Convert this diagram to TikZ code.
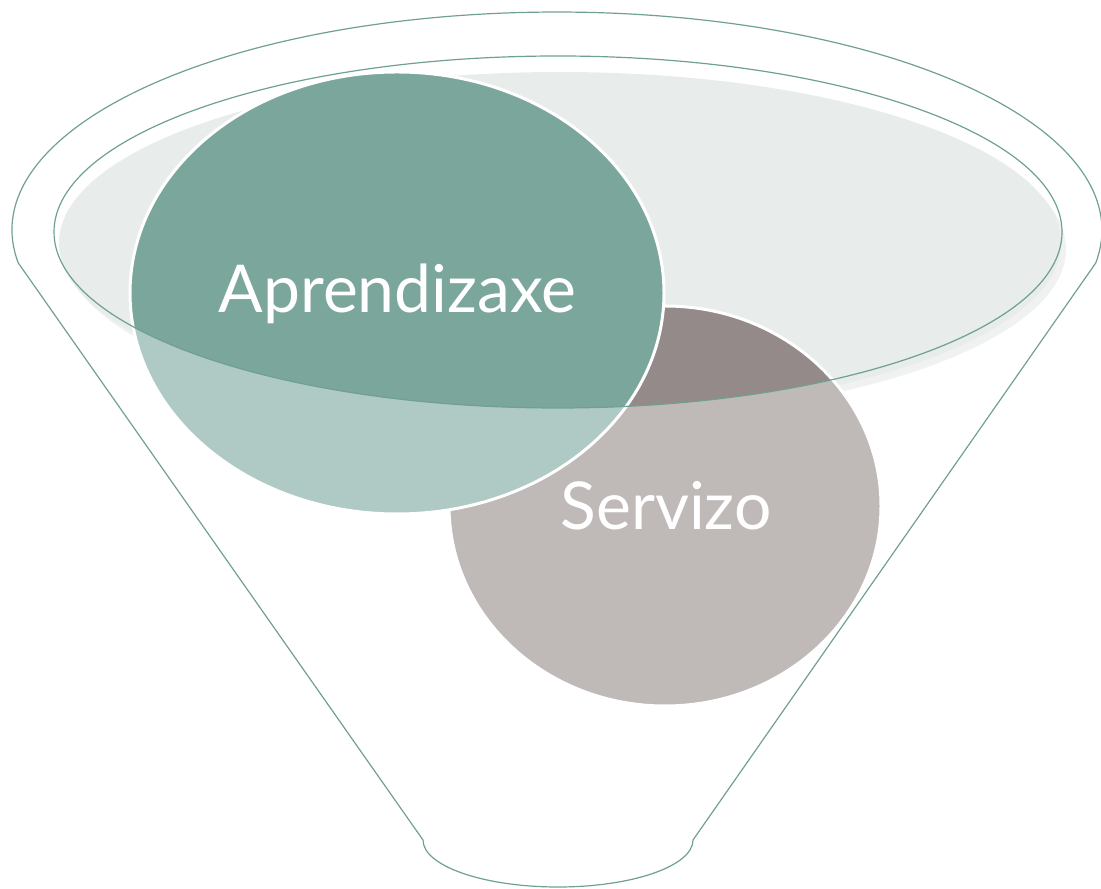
\documentclass[tikz,border=0pt]{standalone}
\usepackage{fontspec}
\setmainfont{Lato}
\definecolor{tealdark}{HTML}{7BA69B}
\definecolor{teallight}{HTML}{AFCAC5}
\definecolor{greydark}{HTML}{948A89}
\definecolor{greylight}{HTML}{BFB9B8}
\definecolor{bowlfill}{HTML}{E8ECEB}
\definecolor{bowlshadow}{HTML}{F0F2F1}
\definecolor{funnelline}{HTML}{70A093}
\tikzset{
  outline/.style={draw=funnelline, line width=0.6pt},
  ring/.style={draw=white, line width=1.5pt},
  label/.style={text=white, font=\fontsize{33}{36}\selectfont, anchor=base, inner sep=0pt}
}
\begin{document}
\begin{tikzpicture}[x=0.5pt,y=0.5pt]
\useasboundingbox (0,0) rectangle (1101,888);
% funnel outline
\draw[outline] (18.3,625) arc[start angle=188.7, end angle=-8.7, x radius=545, y radius=218]
  -- (693,48) arc[start angle=0, end angle=-180, x radius=135, y radius=47] -- cycle;
% bowl shadow and fill
\fill[bowlshadow] (565,639) ellipse[x radius=501, y radius=171];
\fill[bowlfill] (560,645) ellipse[x radius=501, y radius=171];
% Servizo
\fill[greylight] (665,382) ellipse[x radius=216, y radius=200];
\begin{scope}
  \clip (558,656) ellipse[x radius=504, y radius=176];
  \fill[greydark] (665,382) ellipse[x radius=216, y radius=200];
\end{scope}
\draw[ring] (665,382) ellipse[x radius=216, y radius=200];
% Aprendizaxe
\fill[teallight] (397,595) ellipse[x radius=267, y radius=221];
\begin{scope}
  \clip (558,656) ellipse[x radius=504, y radius=176];
  \fill[tealdark] (397,595) ellipse[x radius=267, y radius=221];
\end{scope}
\draw[ring] (397,595) ellipse[x radius=267, y radius=221];
% bowl rim
\draw[outline] (558,656) ellipse[x radius=504, y radius=176];
% labels
\node[label] (aprendizaxe) at (397.5,575) {Aprendizaxe};
\node[label] (servizo) at (666,358) {Servizo};
\end{tikzpicture}
\end{document}
